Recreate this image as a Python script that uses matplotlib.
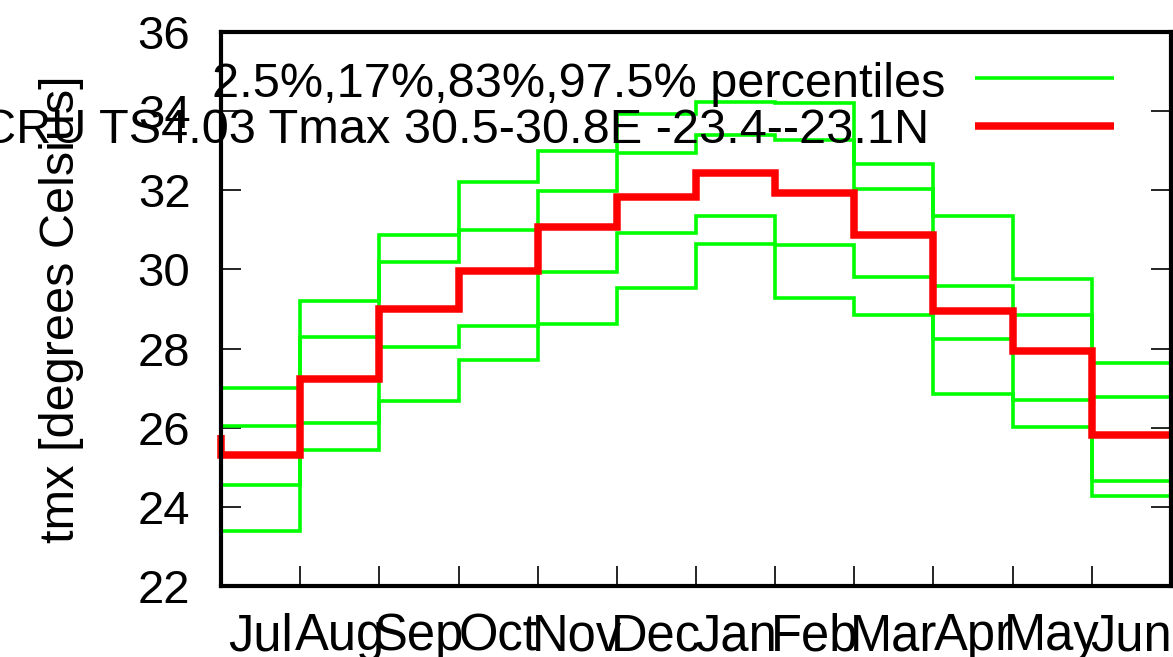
import numpy as np
import matplotlib
matplotlib.use("Agg")
import matplotlib.pyplot as plt

plt.rcParams['font.family'] = ['Liberation Sans', 'DejaVu Sans']

months = ['Jul', 'Aug', 'Sep', 'Oct', 'Nov', 'Dec', 'Jan', 'Feb', 'Mar', 'Apr', 'May', 'Jun']
p975 = [27.0, 29.2, 30.87, 32.2, 33.0, 33.92, 34.24, 34.2, 32.67, 31.35, 29.77, 27.64]
p83 = [26.05, 28.29, 30.2, 31.0, 31.97, 32.94, 33.4, 33.27, 32.04, 29.59, 28.85, 26.78]
p17 = [24.55, 26.12, 28.03, 28.57, 29.94, 30.91, 31.35, 30.62, 29.81, 28.23, 26.69, 24.66]
p025 = [23.4, 25.43, 26.68, 27.7, 28.63, 29.54, 30.63, 29.28, 28.84, 26.84, 26.03, 24.28]
tmax = [25.31, 27.23, 29.01, 29.95, 31.08, 31.82, 32.43, 31.94, 30.86, 28.94, 27.95, 25.82]
yticks = [22, 24, 26, 28, 30, 32, 34, 36]

label_pct = '2.5%,17%,83%,97.5% percentiles'
label_obs = 'CRU TS4.03 Tmax 30.5-30.8E -23.4--23.1N'
ylabel = 'tmx [degrees Celsius]'

fig = plt.figure(figsize=(11.73, 6.57), dpi=100)
ax = fig.add_axes([221/1173, 1-586/657, 950/1173, 554/657])

n = len(months)
edges = np.r_[0, np.arange(n + 1)]


def steps(vals):
    v = np.asarray(vals, dtype=float)
    return np.r_[v[-1], v, v[-1]]


for s in (p975, p83, p17, p025):
    ax.step(edges, steps(s), where='post', color='#00ff00', lw=2.6,
            solid_capstyle='butt', solid_joinstyle='miter', clip_on=False, zorder=3)
ax.step(edges, steps(tmax), where='post', color='#ff0000', lw=5.4,
        solid_capstyle='butt', solid_joinstyle='miter', clip_on=False, zorder=4)

ax.set_xlim(0, n)
ax.set_ylim(22, 36)
ax.set_yticks(yticks)
ax.set_yticklabels([str(t) for t in yticks])
ax.set_xticks(np.arange(1, n))
ax.set_xticklabels([])
ax.set_xticks(np.arange(n) + 0.5, minor=True)
ax.set_xticklabels(months, minor=True)

ax.tick_params(axis='y', which='major', direction='in', length=14.5, width=1.2,
               labelsize=34, pad=22, left=True, right=True)
ax.tick_params(axis='x', which='major', direction='in', length=14.5, width=1.2,
               bottom=True, top=False)
ax.tick_params(axis='x', which='minor', length=0, labelsize=36.5, pad=19)

for sp in ax.spines.values():
    sp.set_linewidth(3.0)
    sp.set_zorder(5)

ax.set_ylabel(ylabel, fontsize=35)
ax.yaxis.set_label_coords(-(221-84)/950, 0.5)

# key
ax.text(0.762, 0.883, label_pct, transform=ax.transAxes, ha='right', va='baseline',
        fontsize=35, zorder=6, clip_on=False)
ax.text(0.746, 0.800, label_obs, transform=ax.transAxes, ha='right', va='baseline',
        fontsize=35, zorder=6, clip_on=False)
ax.plot([0.794, 0.940], [0.917, 0.917], transform=ax.transAxes, color='#00ff00',
        lw=2.6, solid_capstyle='butt', clip_on=False, zorder=6)
ax.plot([0.794, 0.940], [0.830, 0.830], transform=ax.transAxes, color='#ff0000',
        lw=5.4, solid_capstyle='butt', clip_on=False, zorder=6)

fig.savefig('out.png', dpi=100)
